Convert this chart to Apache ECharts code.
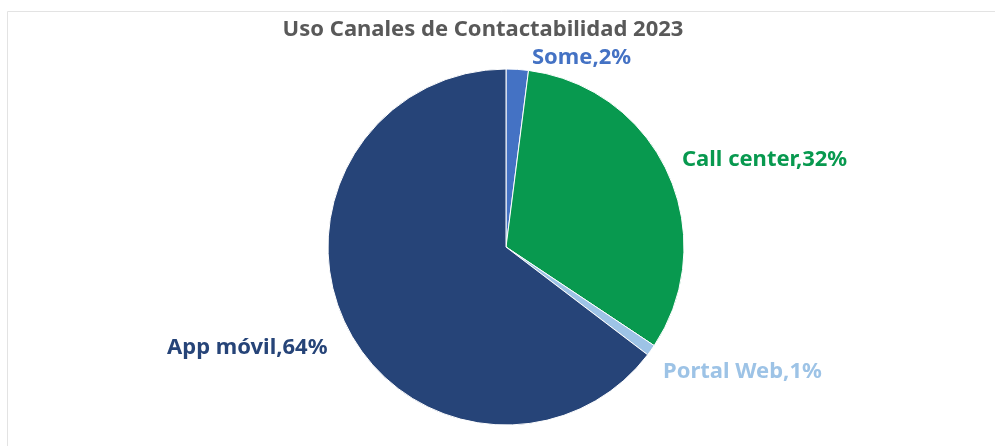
<!DOCTYPE html>
<html>
<head>
<meta charset="utf-8">
<script src="https://cdn.jsdelivr.net/npm/echarts@6/dist/echarts.min.js"></script>
<style>
  html, body { margin: 0; padding: 0; background: #fff; }
  #chart { width: 995px; height: 446px; }
</style>
</head>
<body>
<div id="chart"></div>
<script>
// Channel usage shares for 2023
const channels = ['Some', 'Call center', 'Portal Web', 'App móvil'];
const shares = [2, 32, 1, 64];
const sliceColors = ['#4472C4', '#08994F', '#9DC3E6', '#264478'];
// Label anchor points (left edge, vertical middle) for each channel
const labelSpots = [[532, 58], [682, 160], [663, 372], [167, 348]];

const chart = echarts.init(document.getElementById('chart'), null, { renderer: 'canvas' });

chart.setOption({
  backgroundColor: '#ffffff',
  animation: false,
  title: {
    text: 'Uso Canales de Contactabilidad 2023',
    left: 478,
    top: 14,
    textAlign: 'center',
    textStyle: {
      fontFamily: 'Noto Sans',
      fontWeight: 'bold',
      fontSize: 22,
      color: '#595959'
    }
  },
  graphic: [{
    type: 'rect',
    shape: { x: 7.5, y: 11.5, width: 1100, height: 500 },
    style: { fill: 'none', stroke: '#e3e3e3', lineWidth: 1 },
    silent: true,
    z: -1
  }],
  series: [{
    type: 'pie',
    center: [506, 247],
    radius: 178,
    startAngle: 90,
    clockwise: true,
    data: channels.map((name, i) => ({
      name,
      value: shares[i],
      itemStyle: { color: sliceColors[i] },
      label: { color: sliceColors[i] }
    })),
    itemStyle: { borderColor: '#ffffff', borderWidth: 1 },
    label: {
      show: true,
      position: 'outside',
      formatter: p => p.name + ',' + p.value + '%',
      fontFamily: 'Noto Sans',
      fontWeight: 'bold',
      fontSize: 22
    },
    labelLine: { show: false },
    labelLayout: p => ({
      x: labelSpots[p.dataIndex][0],
      y: labelSpots[p.dataIndex][1],
      align: 'left',
      verticalAlign: 'middle'
    })
  }]
});
</script>
</body>
</html>
